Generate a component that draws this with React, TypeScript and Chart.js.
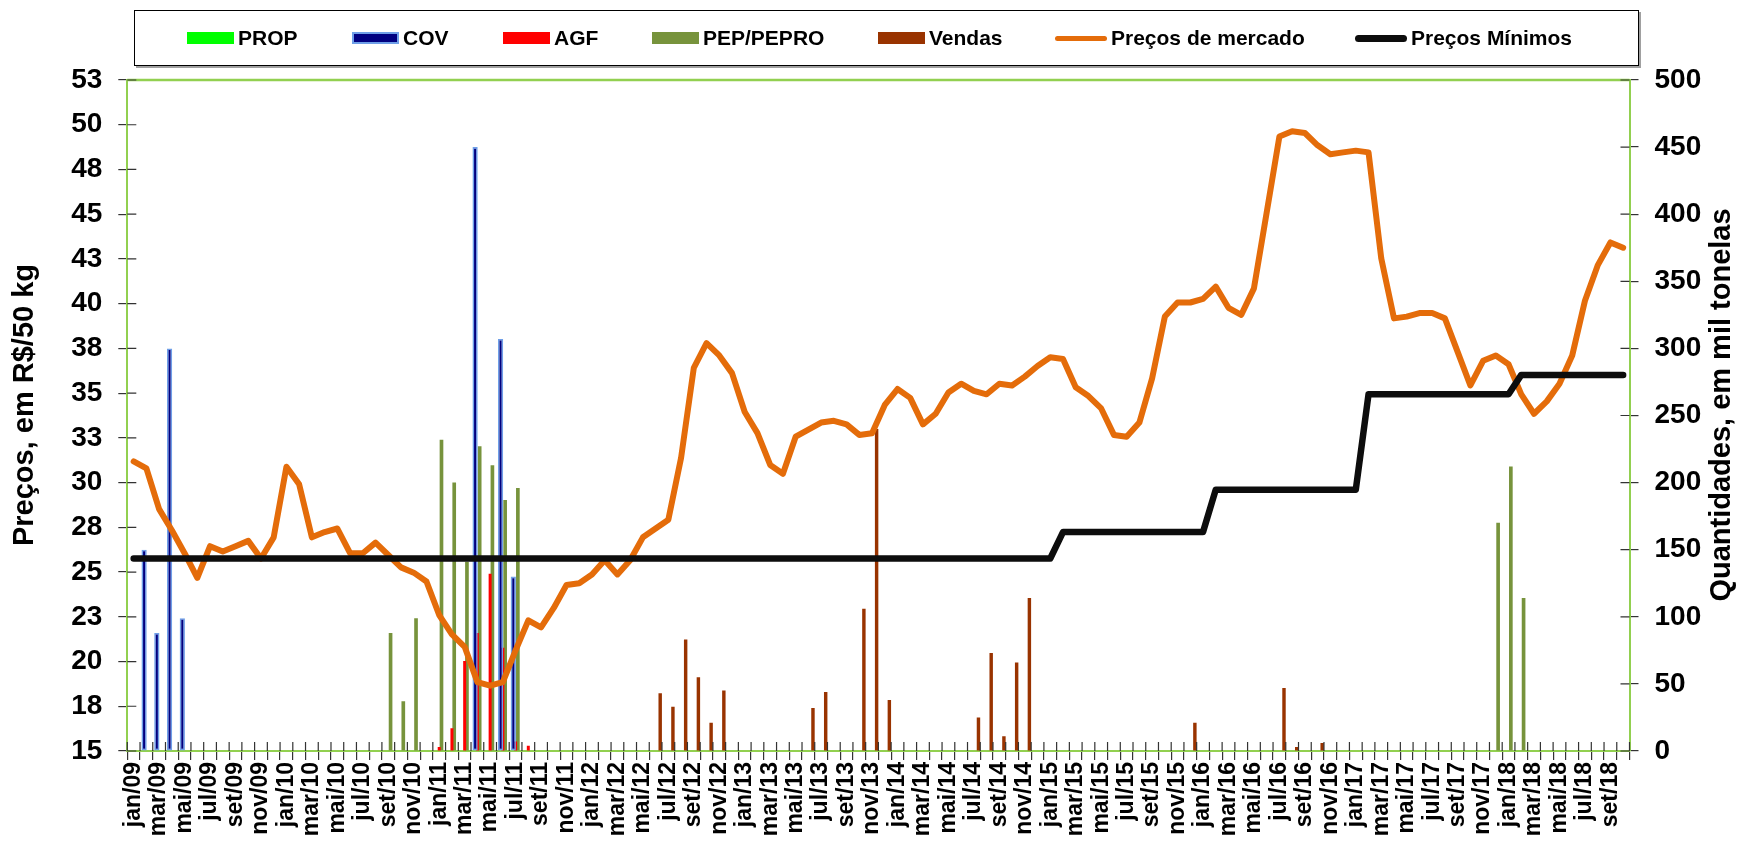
import React, { useEffect, useRef } from 'react';
import { Chart, registerables } from 'chart.js';

Chart.register(...registerables);

const FONT = '"Liberation Sans", Arial, sans-serif';

const months = [
  'jan/09', 'fev/09', 'mar/09', 'abr/09', 'mai/09', 'jun/09', 'jul/09', 'ago/09', 'set/09', 'out/09', 'nov/09', 'dez/09',
  'jan/10', 'fev/10', 'mar/10', 'abr/10', 'mai/10', 'jun/10', 'jul/10', 'ago/10', 'set/10', 'out/10', 'nov/10', 'dez/10',
  'jan/11', 'fev/11', 'mar/11', 'abr/11', 'mai/11', 'jun/11', 'jul/11', 'ago/11', 'set/11', 'out/11', 'nov/11', 'dez/11',
  'jan/12', 'fev/12', 'mar/12', 'abr/12', 'mai/12', 'jun/12', 'jul/12', 'ago/12', 'set/12', 'out/12', 'nov/12', 'dez/12',
  'jan/13', 'fev/13', 'mar/13', 'abr/13', 'mai/13', 'jun/13', 'jul/13', 'ago/13', 'set/13', 'out/13', 'nov/13', 'dez/13',
  'jan/14', 'fev/14', 'mar/14', 'abr/14', 'mai/14', 'jun/14', 'jul/14', 'ago/14', 'set/14', 'out/14', 'nov/14', 'dez/14',
  'jan/15', 'fev/15', 'mar/15', 'abr/15', 'mai/15', 'jun/15', 'jul/15', 'ago/15', 'set/15', 'out/15', 'nov/15', 'dez/15',
  'jan/16', 'fev/16', 'mar/16', 'abr/16', 'mai/16', 'jun/16', 'jul/16', 'ago/16', 'set/16', 'out/16', 'nov/16', 'dez/16',
  'jan/17', 'fev/17', 'mar/17', 'abr/17', 'mai/17', 'jun/17', 'jul/17', 'ago/17', 'set/17', 'out/17', 'nov/17', 'dez/17',
  'jan/18', 'fev/18', 'mar/18', 'abr/18', 'mai/18', 'jun/18', 'jul/18', 'ago/18', 'set/18', 'out/18',
];

// Preços de mercado (R$/50 kg)
const precoMercado = [
  31.4, 31.0, 28.7, 27.5, 26.2, 24.8, 26.6, 26.3, 26.6, 26.9, 25.9, 27.1,
  31.1, 30.1, 27.1, 27.4, 27.6, 26.2, 26.2, 26.8, 26.1, 25.4, 25.1, 24.6,
  22.7, 21.6, 20.9, 18.9, 18.7, 18.9, 20.7, 22.4, 22.0, 23.1, 24.4, 24.5,
  25.0, 25.8, 25.0, 25.8, 27.1, 27.6, 28.1, 31.6, 36.7, 38.1, 37.4, 36.4,
  34.2, 33.0, 31.2, 30.7, 32.8, 33.2, 33.6, 33.7, 33.5, 32.9, 33.0, 34.6,
  35.5, 35.0, 33.5, 34.1, 35.3, 35.8, 35.4, 35.2, 35.8, 35.7, 36.2, 36.8,
  37.3, 37.2, 35.6, 35.1, 34.4, 32.9, 32.8, 33.6, 36.1, 39.6, 40.4, 40.4,
  40.6, 41.3, 40.1, 39.7, 41.2, 45.5, 49.8, 50.1, 50.0, 49.3, 48.8, 48.9,
  49.0, 48.9, 42.9, 39.5, 39.6, 39.8, 39.8, 39.5, 37.6, 35.7, 37.1, 37.4,
  36.9, 35.2, 34.1, 34.8, 35.8, 37.4, 40.5, 42.5, 43.8, 43.5,
];

// Preços Mínimos (R$/50 kg)
const precoMinimo = [
  25.9, 25.9, 25.9, 25.9, 25.9, 25.9, 25.9, 25.9, 25.9, 25.9, 25.9, 25.9,
  25.9, 25.9, 25.9, 25.9, 25.9, 25.9, 25.9, 25.9, 25.9, 25.9, 25.9, 25.9,
  25.9, 25.9, 25.9, 25.9, 25.9, 25.9, 25.9, 25.9, 25.9, 25.9, 25.9, 25.9,
  25.9, 25.9, 25.9, 25.9, 25.9, 25.9, 25.9, 25.9, 25.9, 25.9, 25.9, 25.9,
  25.9, 25.9, 25.9, 25.9, 25.9, 25.9, 25.9, 25.9, 25.9, 25.9, 25.9, 25.9,
  25.9, 25.9, 25.9, 25.9, 25.9, 25.9, 25.9, 25.9, 25.9, 25.9, 25.9, 25.9,
  25.9, 27.4, 27.4, 27.4, 27.4, 27.4, 27.4, 27.4, 27.4, 27.4, 27.4, 27.4,
  27.4, 29.8, 29.8, 29.8, 29.8, 29.8, 29.8, 29.8, 29.8, 29.8, 29.8, 29.8,
  29.8, 35.2, 35.2, 35.2, 35.2, 35.2, 35.2, 35.2, 35.2, 35.2, 35.2, 35.2,
  35.2, 36.3, 36.3, 36.3, 36.3, 36.3, 36.3, 36.3, 36.3, 36.3,
];

// Quantidades (mil toneladas)
const prop = [
  null, null, null, null, null, null, null, null, null, null, null, null,
  null, null, null, null, null, null, null, null, null, null, null, null,
  null, null, null, null, null, null, null, null, null, null, null, null,
  null, null, null, null, null, null, null, null, null, null, null, null,
  null, null, null, null, null, null, null, null, null, null, null, null,
  null, null, null, null, null, null, null, null, null, null, null, null,
  null, null, null, null, null, null, null, null, null, null, null, null,
  null, null, null, null, null, null, null, null, null, null, null, null,
  null, null, null, null, null, null, null, null, null, null, null, null,
  null, null, null, null, null, null, null, null, null, null,
];

const cov = [
  null, 150, 88, 300, 99, null, null, null, null, null, null, null,
  null, null, null, null, null, null, null, null, null, null, null, null,
  null, null, null, 450, null, 307, 130, null, null, null, null, null,
  null, null, null, null, null, null, null, null, null, null, null, null,
  null, null, null, null, null, null, null, null, null, null, null, null,
  null, null, null, null, null, null, null, null, null, null, null, null,
  null, null, null, null, null, null, null, null, null, null, null, null,
  null, null, null, null, null, null, null, null, null, null, null, null,
  null, null, null, null, null, null, null, null, null, null, null, null,
  null, null, null, null, null, null, null, null, null, null,
];

const agf = [
  null, null, null, null, null, null, null, null, null, null, null, null,
  null, null, null, null, null, null, null, null, null, null, null, null,
  3, 17, 67, 88, 132, 77, 7, 4, null, null, null, null,
  null, null, null, null, null, null, null, null, null, null, null, null,
  null, null, null, null, null, null, null, null, null, null, null, null,
  null, null, null, null, null, null, null, null, null, null, null, null,
  null, null, null, null, null, null, null, null, null, null, null, null,
  null, null, null, null, null, null, null, null, null, null, null, null,
  null, null, null, null, null, null, null, null, null, null, null, null,
  null, null, null, null, null, null, null, null, null, null,
];

const pep = [
  null, null, null, null, null, null, null, null, null, null, null, null,
  null, null, null, null, null, null, null, null, 88, 37, 99, null,
  232, 200, 141, 227, 213, 187, 196, null, null, null, null, null,
  null, null, null, null, null, null, null, null, null, null, null, null,
  null, null, null, null, null, null, null, null, null, null, null, null,
  null, null, null, null, null, null, null, null, null, null, null, null,
  null, null, null, null, null, null, null, null, null, null, null, null,
  null, null, null, null, null, null, null, null, null, null, null, null,
  null, null, null, null, null, null, null, null, null, null, null, 170,
  212, 114, null, null, null, null, null, null, null, null,
];

const vendas = [
  null, null, null, null, null, null, null, null, null, null, null, null,
  null, null, null, null, null, null, null, null, null, null, null, null,
  null, null, null, null, null, null, null, null, null, null, null, null,
  null, null, null, null, null, 43, 33, 83, 55, 21, 45, null,
  null, null, null, null, null, 32, 44, null, null, 106, 240, 38,
  null, null, null, null, null, null, 25, 73, 11, 66, 114, null,
  null, null, null, null, null, null, null, null, null, null, null, 21,
  null, null, null, null, null, null, 47, 3, null, 6, null, null,
  null, null, null, null, null, null, null, null, null, null, null, null,
  null, null, null, null, null, null, null, null, null, null,
];

const leftTickLabels = ['15', '18', '20', '23', '25', '28', '30', '33', '35', '38', '40', '43', '45', '48', '50', '53'];
const leftMin = 15;
const leftMax = 53;
const rightMin = 0;
const rightMax = 500;
const rightStep = 50;

const leftTitle = 'Preços, em R$/50 kg';
const rightTitle = 'Quantidades, em mil tonelas';

const COLORS = {
  prop: '#00FF00',
  cov: '#000080',
  covBorder: '#6F9FE8',
  agf: '#FF0000',
  pep: '#77933C',
  vendas: '#993300',
  mercado: '#E46C0A',
  minimo: '#0D0D0D',
  axis: '#92D050',
  tick: '#333333',
};

const legendItems = [
  { label: 'PROP', kind: 'box', color: COLORS.prop },
  { label: 'COV', kind: 'box', color: COLORS.cov, border: COLORS.covBorder },
  { label: 'AGF', kind: 'box', color: COLORS.agf },
  { label: 'PEP/PEPRO', kind: 'box', color: COLORS.pep },
  { label: 'Vendas', kind: 'box', color: COLORS.vendas },
  { label: 'Preços de mercado', kind: 'line', color: COLORS.mercado, thick: 5 },
  { label: 'Preços Mínimos', kind: 'line', color: COLORS.minimo, thick: 7 },
];
const legendLeft = [187, 352, 503, 652, 878, 1055, 1355];

const decorPlugin = {
  id: 'decor',
  afterDatasetsDraw(chart: any) {
    const { ctx, chartArea: a, scales } = chart;
    ctx.save();
    // top frame line
    ctx.strokeStyle = COLORS.axis;
    ctx.lineWidth = 2.5;
    ctx.beginPath();
    ctx.moveTo(a.left, a.top);
    ctx.lineTo(a.right, a.top);
    ctx.stroke();

    // inner halves of the cross tick marks
    ctx.strokeStyle = COLORS.tick;
    ctx.lineWidth = 1.2;
    const x = scales.x;
    const c0 = x.getPixelForValue(0);
    const c1 = x.getPixelForValue(1);
    const st = c1 - c0;
    ctx.beginPath();
    for (let k = 0; k <= months.length; k++) {
      const px = c0 - st / 2 + k * st;
      ctx.moveTo(px, a.bottom - 9);
      ctx.lineTo(px, a.bottom);
    }
    const yl = scales.y;
    yl.ticks.forEach((_t: any, i: number) => {
      const py = yl.getPixelForTick(i);
      ctx.moveTo(a.left, py);
      ctx.lineTo(a.left + 9, py);
    });
    const yr = scales.y1;
    yr.ticks.forEach((_t: any, i: number) => {
      const py = yr.getPixelForTick(i);
      ctx.moveTo(a.right - 9, py);
      ctx.lineTo(a.right, py);
    });
    ctx.stroke();
    ctx.restore();
  },
  afterDraw(chart: any) {
    const { ctx } = chart;
    ctx.save();
    ctx.fillStyle = '#000';
    ctx.font = `bold 29px ${FONT}`;
    ctx.textAlign = 'center';
    ctx.textBaseline = 'middle';
    ctx.translate(25, 405);
    ctx.rotate(-Math.PI / 2);
    ctx.fillText(leftTitle, 0, 0);
    ctx.restore();

    ctx.save();
    ctx.fillStyle = '#000';
    ctx.font = `bold 29px ${FONT}`;
    ctx.textAlign = 'center';
    ctx.textBaseline = 'middle';
    ctx.translate(1722, 405);
    ctx.rotate(-Math.PI / 2);
    ctx.fillText(rightTitle, 0, 0);
    ctx.restore();
  },
};

export default function App() {
  const ref = useRef<HTMLCanvasElement | null>(null);

  useEffect(() => {
    document.body.style.margin = '0';
    const canvas = ref.current;
    if (!canvas) return;
    const tickFont = { family: FONT, size: 28, weight: 'bold' as const };
    const barCommon = { type: 'bar', yAxisID: 'y1', order: 2, categoryPercentage: 0.9 };
    const chart = new Chart(canvas, {
      type: 'bar',
      data: {
        labels: months,
        datasets: [
          {
            type: 'line', label: 'Preços Mínimos', data: precoMinimo, yAxisID: 'y',
            borderColor: COLORS.minimo, backgroundColor: COLORS.minimo, borderWidth: 6.5,
            pointRadius: 0, tension: 0, fill: false, order: 0,
            borderCapStyle: 'round', borderJoinStyle: 'round',
          } as any,
          {
            type: 'line', label: 'Preços de mercado', data: precoMercado, yAxisID: 'y',
            borderColor: COLORS.mercado, backgroundColor: COLORS.mercado, borderWidth: 6,
            pointRadius: 0, tension: 0, fill: false, order: 1,
            borderCapStyle: 'round', borderJoinStyle: 'round',
          } as any,
          { ...barCommon, label: 'PROP', data: prop, backgroundColor: COLORS.prop, barPercentage: 1.6 } as any,
          {
            ...barCommon, label: 'COV', data: cov, backgroundColor: COLORS.cov,
            borderColor: COLORS.covBorder, borderWidth: 1.6, borderSkipped: false, barPercentage: 2.3,
          } as any,
          { ...barCommon, label: 'AGF', data: agf, backgroundColor: COLORS.agf, barPercentage: 1.3 } as any,
          { ...barCommon, label: 'PEP/PEPRO', data: pep, backgroundColor: COLORS.pep, barPercentage: 1.6 } as any,
          { ...barCommon, label: 'Vendas', data: vendas, backgroundColor: COLORS.vendas, barPercentage: 1.5 } as any,
        ],
      },
      options: {
        responsive: false,
        animation: false,
        devicePixelRatio: 1,
        layout: { padding: { top: 80, left: 0, right: 0, bottom: 0 } },
        plugins: {
          legend: { display: false },
          tooltip: { enabled: false },
        },
        scales: {
          x: {
            type: 'category',
            offset: true,
            grid: { offset: true, drawOnChartArea: false, drawTicks: true, tickLength: 9, color: COLORS.tick, lineWidth: 1.2 },
            border: { color: COLORS.axis, width: 2 },
            ticks: {
              autoSkip: false, maxRotation: 90, minRotation: 90, padding: 2, color: '#000',
              font: { family: FONT, size: 23, weight: 'bold' },
              callback: (_v: any, i: number) => (i % 2 === 0 ? months[i] : ''),
            },
            afterFit: (s: any) => { s.height = 113; },
          } as any,
          y: {
            type: 'linear', position: 'left', min: leftMin, max: leftMax,
            afterBuildTicks: (s: any) => {
              s.ticks = leftTickLabels.map((_l, k) => ({
                value: leftMin + (k * (leftMax - leftMin)) / (leftTickLabels.length - 1),
              }));
            },
            ticks: {
              padding: 16, color: '#000', font: tickFont,
              callback: (_v: any, i: number) => leftTickLabels[i],
            },
            grid: { drawOnChartArea: false, drawTicks: true, tickLength: 9, color: COLORS.tick, lineWidth: 1.2 },
            border: { color: COLORS.axis, width: 2 },
            afterFit: (s: any) => { s.width = 127.3; },
          } as any,
          y1: {
            type: 'linear', position: 'right', min: rightMin, max: rightMax,
            ticks: { stepSize: rightStep, padding: 16, color: '#000', font: tickFont },
            grid: { drawOnChartArea: false, drawTicks: true, tickLength: 9, color: COLORS.tick, lineWidth: 1.2 },
            border: { color: COLORS.axis, width: 2 },
            afterFit: (s: any) => { s.width = 109.5; },
          } as any,
        },
      },
      plugins: [decorPlugin],
    });
    return () => chart.destroy();
  }, []);

  return (
    <div style={{ position: 'relative', width: 1739, height: 864, overflow: 'hidden', background: '#fff' }}>
      <canvas ref={ref} width={1739} height={864} style={{ display: 'block', width: 1739, height: 864 }} />
      <div
        style={{
          position: 'absolute', left: 134, top: 10, width: 1505, height: 56,
          border: '1px solid #000', boxSizing: 'border-box', boxShadow: '2px 2px 0 #a0a0a0',
          background: '#fff', fontFamily: FONT, fontWeight: 'bold', fontSize: 21, color: '#000',
        }}
      >
        {legendItems.map((it, i) => (
          <div
            key={it.label}
            style={{
              position: 'absolute', left: legendLeft[i] - 135, top: 0, height: '100%',
              display: 'flex', alignItems: 'center', whiteSpace: 'nowrap',
            }}
          >
            {it.kind === 'box' ? (
              <span
                style={{
                  display: 'inline-block', width: 47, height: 12, background: it.color,
                  border: it.border ? `2px solid ${it.border}` : 'none', boxSizing: 'border-box',
                }}
              />
            ) : (
              <span
                style={{
                  display: 'inline-block', width: 52, height: it.thick, background: it.color,
                  borderRadius: 4,
                }}
              />
            )}
            <span style={{ marginLeft: 4, lineHeight: '24px' }}>{it.label}</span>
          </div>
        ))}
      </div>
    </div>
  );
}
